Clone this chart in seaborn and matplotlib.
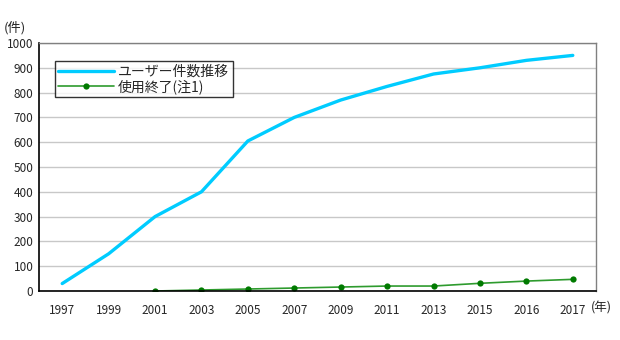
import numpy as np
import pandas as pd
import seaborn as sns
import matplotlib
matplotlib.use("Agg")
import matplotlib.pyplot as plt

years = ["1997", "1999", "2001", "2003", "2005", "2007", "2009",
         "2011", "2013", "2015", "2016", "2017"]
users = [30, 150, 300, 400, 605, 700, 770, 825, 875, 900, 930, 950]
ended = [None, None, 0, 4, 8, 12, 16, 20, 20, 31, 40, 47]
label_users = "ユーザー件数推移"
label_ended = "使用終了(注1)"

sns.set_theme(style="white")
plt.rcParams["font.family"] = ["Noto Sans CJK JP", "DejaVu Sans"]

pos = np.arange(len(years))
df = pd.DataFrame({"pos": pos, "users": users,
                   "ended": pd.array(ended, dtype="Float64")})
df_end = df.dropna(subset=["ended"])

fig = plt.figure(figsize=(6.2, 3.4), dpi=100)
ax = fig.add_axes([39 / 620, 1 - 291 / 340, 557 / 620, 248 / 340])

sns.lineplot(data=df, x="pos", y="users", ax=ax, color="#00CCFF",
             linewidth=2.4, label=label_users)
sns.lineplot(data=df_end, x="pos", y=df_end["ended"].astype(float), ax=ax,
             color="#2E9B2E", linewidth=1.2, marker="o", markersize=4.5,
             markerfacecolor="#007A00", markeredgewidth=0, label=label_ended)

ax.set_xlim(-0.5, len(years) - 0.5)
ax.set_ylim(0, 1000)
ax.set_yticks(np.arange(0, 1001, 100))
ax.set_xticks(pos)
ax.set_xticklabels(years)
ax.tick_params(axis="both", labelsize=8.5, length=0, pad=4)
ax.tick_params(axis="x", pad=9)
ax.set_xlabel("")
ax.set_ylabel("")
ax.grid(axis="y", color="#C8C8C8", linewidth=1.0)
ax.set_axisbelow(True)

for side in ("left", "bottom"):
    ax.spines[side].set_color("black")
    ax.spines[side].set_linewidth(1.2)
for side in ("top", "right"):
    ax.spines[side].set_color("#808080")
    ax.spines[side].set_linewidth(1.0)

fig.text(4 / 620, 1 - 28 / 340, "(件)", fontsize=9.5, va="center", ha="left")
fig.text(591 / 620, 1 - 308 / 340, "(年)", fontsize=9, va="center", ha="left")

leg = ax.legend(loc="upper left", bbox_to_anchor=(16 / 557, 1 - 18 / 248),
                fontsize=10, frameon=True, fancybox=False, borderpad=0.25,
                labelspacing=0.05, handlelength=4.0, handletextpad=0.3,
                borderaxespad=0)
leg.get_frame().set_edgecolor("black")
leg.get_frame().set_linewidth(1.0)

fig.savefig("out.png", dpi=100)
